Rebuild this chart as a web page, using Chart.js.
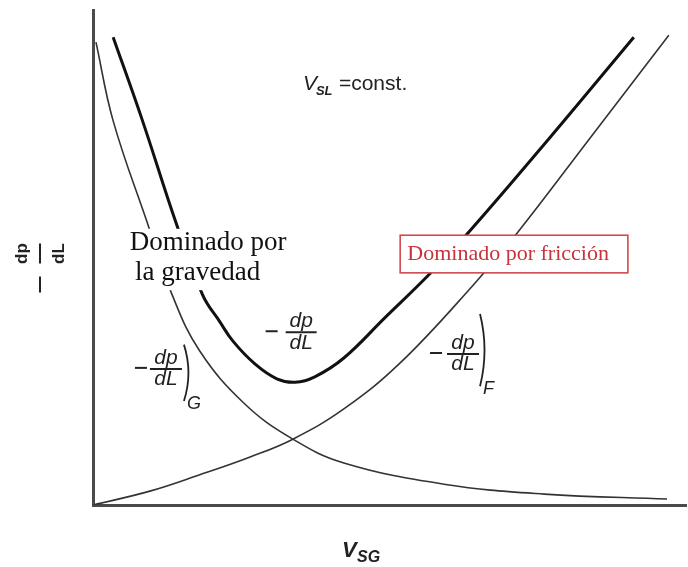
<!DOCTYPE html>
<html lang="es">
<head>
  <meta charset="UTF-8">
  <title>Gradiente de presión vs V_SG</title>
  <script src="https://cdn.jsdelivr.net/npm/chart.js"></script>
  <style>
    body { margin: 0; background: #fff; }
  </style>
</head>
<body>
<canvas id="gradChart" width="688" height="567"></canvas>

<script>
  // Curvas esquemáticas (unidades arbitrarias, eje 0-10)
  const gravX = [0.05, 0.34, 0.91, 1.33, 1.80, 2.56, 3.37, 4.23, 5.92, 7.61, 9.68];
  const gravY = [9.35, 7.76, 5.72, 4.26, 3.11, 2.04, 1.33, 0.85, 0.42, 0.22, 0.12];

  const fricX = [0, 0.96, 1.80, 2.65, 3.37, 4.23, 5.18, 6.41, 7.15, 8.38, 9.71];
  const fricY = [0, 0.28, 0.61, 0.97, 1.33, 1.94, 2.87, 4.44, 5.49, 7.41, 9.49];

  const totX = [0.34, 0.83, 1.40, 1.85, 2.14, 2.36, 2.73, 3.10, 3.41, 3.74, 4.23, 4.92, 5.63, 6.32, 7.71, 9.12];
  const totY = [9.45, 7.78, 5.70, 4.24, 3.70, 3.31, 2.85, 2.55, 2.48, 2.59, 2.97, 3.78, 4.61, 5.49, 7.43, 9.45];

  const toPoints = (xs, ys) => xs.map((x, i) => ({ x, y: ys[i] }));

  const SANS = '"Liberation Sans", Arial, sans-serif';
  const SERIF = '"Liberation Serif", "Times New Roman", serif';

  // fracción  −dp/dL  centrada en la barra (cx, cy)
  function drawFraction(ctx, cx, cy, opts) {
    const { size = 20, barW = 32, minusGap = 8 } = opts || {};
    ctx.save();
    ctx.fillStyle = '#222';
    ctx.strokeStyle = '#222';
    ctx.font = 'italic ' + size + 'px ' + SANS;
    ctx.textAlign = 'center';
    ctx.textBaseline = 'alphabetic';
    ctx.fillText('dp', cx, cy - 5);
    ctx.fillText('dL', cx, cy + size * 0.78);
    ctx.lineWidth = 2;
    ctx.beginPath();
    ctx.moveTo(cx - barW / 2, cy);
    ctx.lineTo(cx + barW / 2, cy);
    ctx.stroke();
    // signo menos
    ctx.beginPath();
    ctx.moveTo(cx - barW / 2 - minusGap - 12, cy - 1);
    ctx.lineTo(cx - barW / 2 - minusGap, cy - 1);
    ctx.stroke();
    ctx.restore();
  }

  // paréntesis alto con subíndice
  function drawBracket(ctx, x, top, bottom, sub) {
    ctx.save();
    ctx.strokeStyle = '#222';
    ctx.lineWidth = 1.8;
    ctx.beginPath();
    ctx.moveTo(x, top);
    ctx.quadraticCurveTo(x + 9, (top + bottom) / 2, x, bottom);
    ctx.stroke();
    ctx.fillStyle = '#222';
    ctx.font = 'italic 18px ' + SANS;
    ctx.textAlign = 'left';
    ctx.fillText(sub, x + 3, bottom + 8);
    ctx.restore();
  }

  const annotations = {
    id: 'annotations',
    afterDatasetsDraw(chart) {
      const { ctx, chartArea } = chart;
      const xs = chart.scales.x, ys = chart.scales.y;
      const px = v => xs.getPixelForValue(v);
      const py = v => ys.getPixelForValue(v);

      // V_SL = const.
      ctx.save();
      ctx.fillStyle = '#222';
      ctx.textBaseline = 'alphabetic';
      ctx.font = 'italic 21px ' + SANS;
      ctx.fillText('V', px(3.54), py(8.38));
      ctx.font = 'bold italic 13px ' + SANS;
      ctx.fillText('SL', px(3.54) + 13, py(8.38) + 5);
      ctx.font = '21px ' + SANS;
      ctx.fillText('=const.', px(3.54) + 36, py(8.38));
      ctx.restore();

      // "Dominado por la gravedad" sobre fondo blanco
      ctx.save();
      ctx.fillStyle = '#fff';
      ctx.fillRect(px(0.54), py(5.58), px(3.49) - px(0.54), py(4.34) - py(5.58));
      ctx.fillStyle = '#111';
      ctx.font = '27px ' + SERIF;
      ctx.textAlign = 'left';
      ctx.fillText('Dominado por', px(0.62), py(5.15));
      ctx.fillText('la gravedad', px(0.71), py(4.55));
      ctx.restore();

      // recuadro rojo "Dominado por fricción"
      ctx.save();
      const bx0 = px(5.18), bx1 = px(9.02), by0 = py(5.45), by1 = py(4.69);
      ctx.fillStyle = '#fff';
      ctx.fillRect(bx0, by0, bx1 - bx0, by1 - by0);
      ctx.strokeStyle = '#d0494f';
      ctx.lineWidth = 1.6;
      ctx.strokeRect(bx0, by0, bx1 - bx0, by1 - by0);
      ctx.fillStyle = '#c8323a';
      ctx.font = '22px ' + SERIF;
      ctx.textAlign = 'center';
      ctx.fillText('Dominado por fricción', px(7.0), py(4.95));
      ctx.restore();

      // etiquetas de las curvas
      drawFraction(ctx, px(3.51), py(3.49), { size: 21, barW: 31 });
      drawFraction(ctx, px(1.23), py(2.75), { size: 21, barW: 32, minusGap: 3 });
      drawBracket(ctx, px(1.23) + 18, py(3.24), py(2.10), 'G');
      drawFraction(ctx, px(6.24), py(3.05), { size: 21, barW: 32, minusGap: 5 });
      drawBracket(ctx, px(6.24) + 17, py(3.86), py(2.40), 'F');

      // título eje X: V_SG
      ctx.save();
      ctx.fillStyle = '#222';
      const tx = px(4.2), ty = chartArea.bottom + 52;
      ctx.font = 'bold italic 22px ' + SANS;
      ctx.fillText('V', tx, ty);
      ctx.font = 'bold italic 16px ' + SANS;
      ctx.fillText('SG', tx + 15, ty + 5);
      ctx.restore();

      // título eje Y: −dp/dL girado
      ctx.save();
      ctx.translate(chartArea.left - 53, py(5.08));
      ctx.rotate(-Math.PI / 2);
      ctx.fillStyle = '#222';
      ctx.strokeStyle = '#222';
      ctx.font = 'bold 17px ' + SANS;
      ctx.textAlign = 'center';
      ctx.fillText('dp', 0, -13);
      ctx.fillText('dL', 0, 24);
      ctx.lineWidth = 2;
      ctx.beginPath();
      ctx.moveTo(-10, 0); ctx.lineTo(10, 0);
      ctx.moveTo(-39, 0); ctx.lineTo(-23, 0);
      ctx.stroke();
      ctx.restore();
    }
  };

  const lineStyle = {
    showLine: true,
    pointRadius: 0,
    fill: false,
    tension: 0.4
  };

  new Chart(document.getElementById('gradChart'), {
    type: 'scatter',
    data: {
      datasets: [
        { label: '-dp/dL)G', data: toPoints(gravX, gravY), borderColor: '#333', borderWidth: 1.6, ...lineStyle },
        { label: '-dp/dL)F', data: toPoints(fricX, fricY), borderColor: '#333', borderWidth: 1.6, ...lineStyle },
        { label: '-dp/dL', data: toPoints(totX, totY), borderColor: '#111', borderWidth: 3, ...lineStyle }
      ]
    },
    options: {
      responsive: false,
      animation: false,
      layout: { padding: { left: 93, top: 10, right: 2, bottom: 62 } },
      plugins: { legend: { display: false }, tooltip: { enabled: false } },
      scales: {
        x: {
          type: 'linear', min: 0, max: 10,
          grid: { display: false, drawTicks: false },
          ticks: { display: false },
          border: { display: true, color: '#4a4a4a', width: 3 }
        },
        y: {
          type: 'linear', min: 0, max: 10,
          grid: { display: false, drawTicks: false },
          ticks: { display: false },
          border: { display: true, color: '#4a4a4a', width: 3 }
        }
      }
    },
    plugins: [annotations]
  });
</script>
</body>
</html>
